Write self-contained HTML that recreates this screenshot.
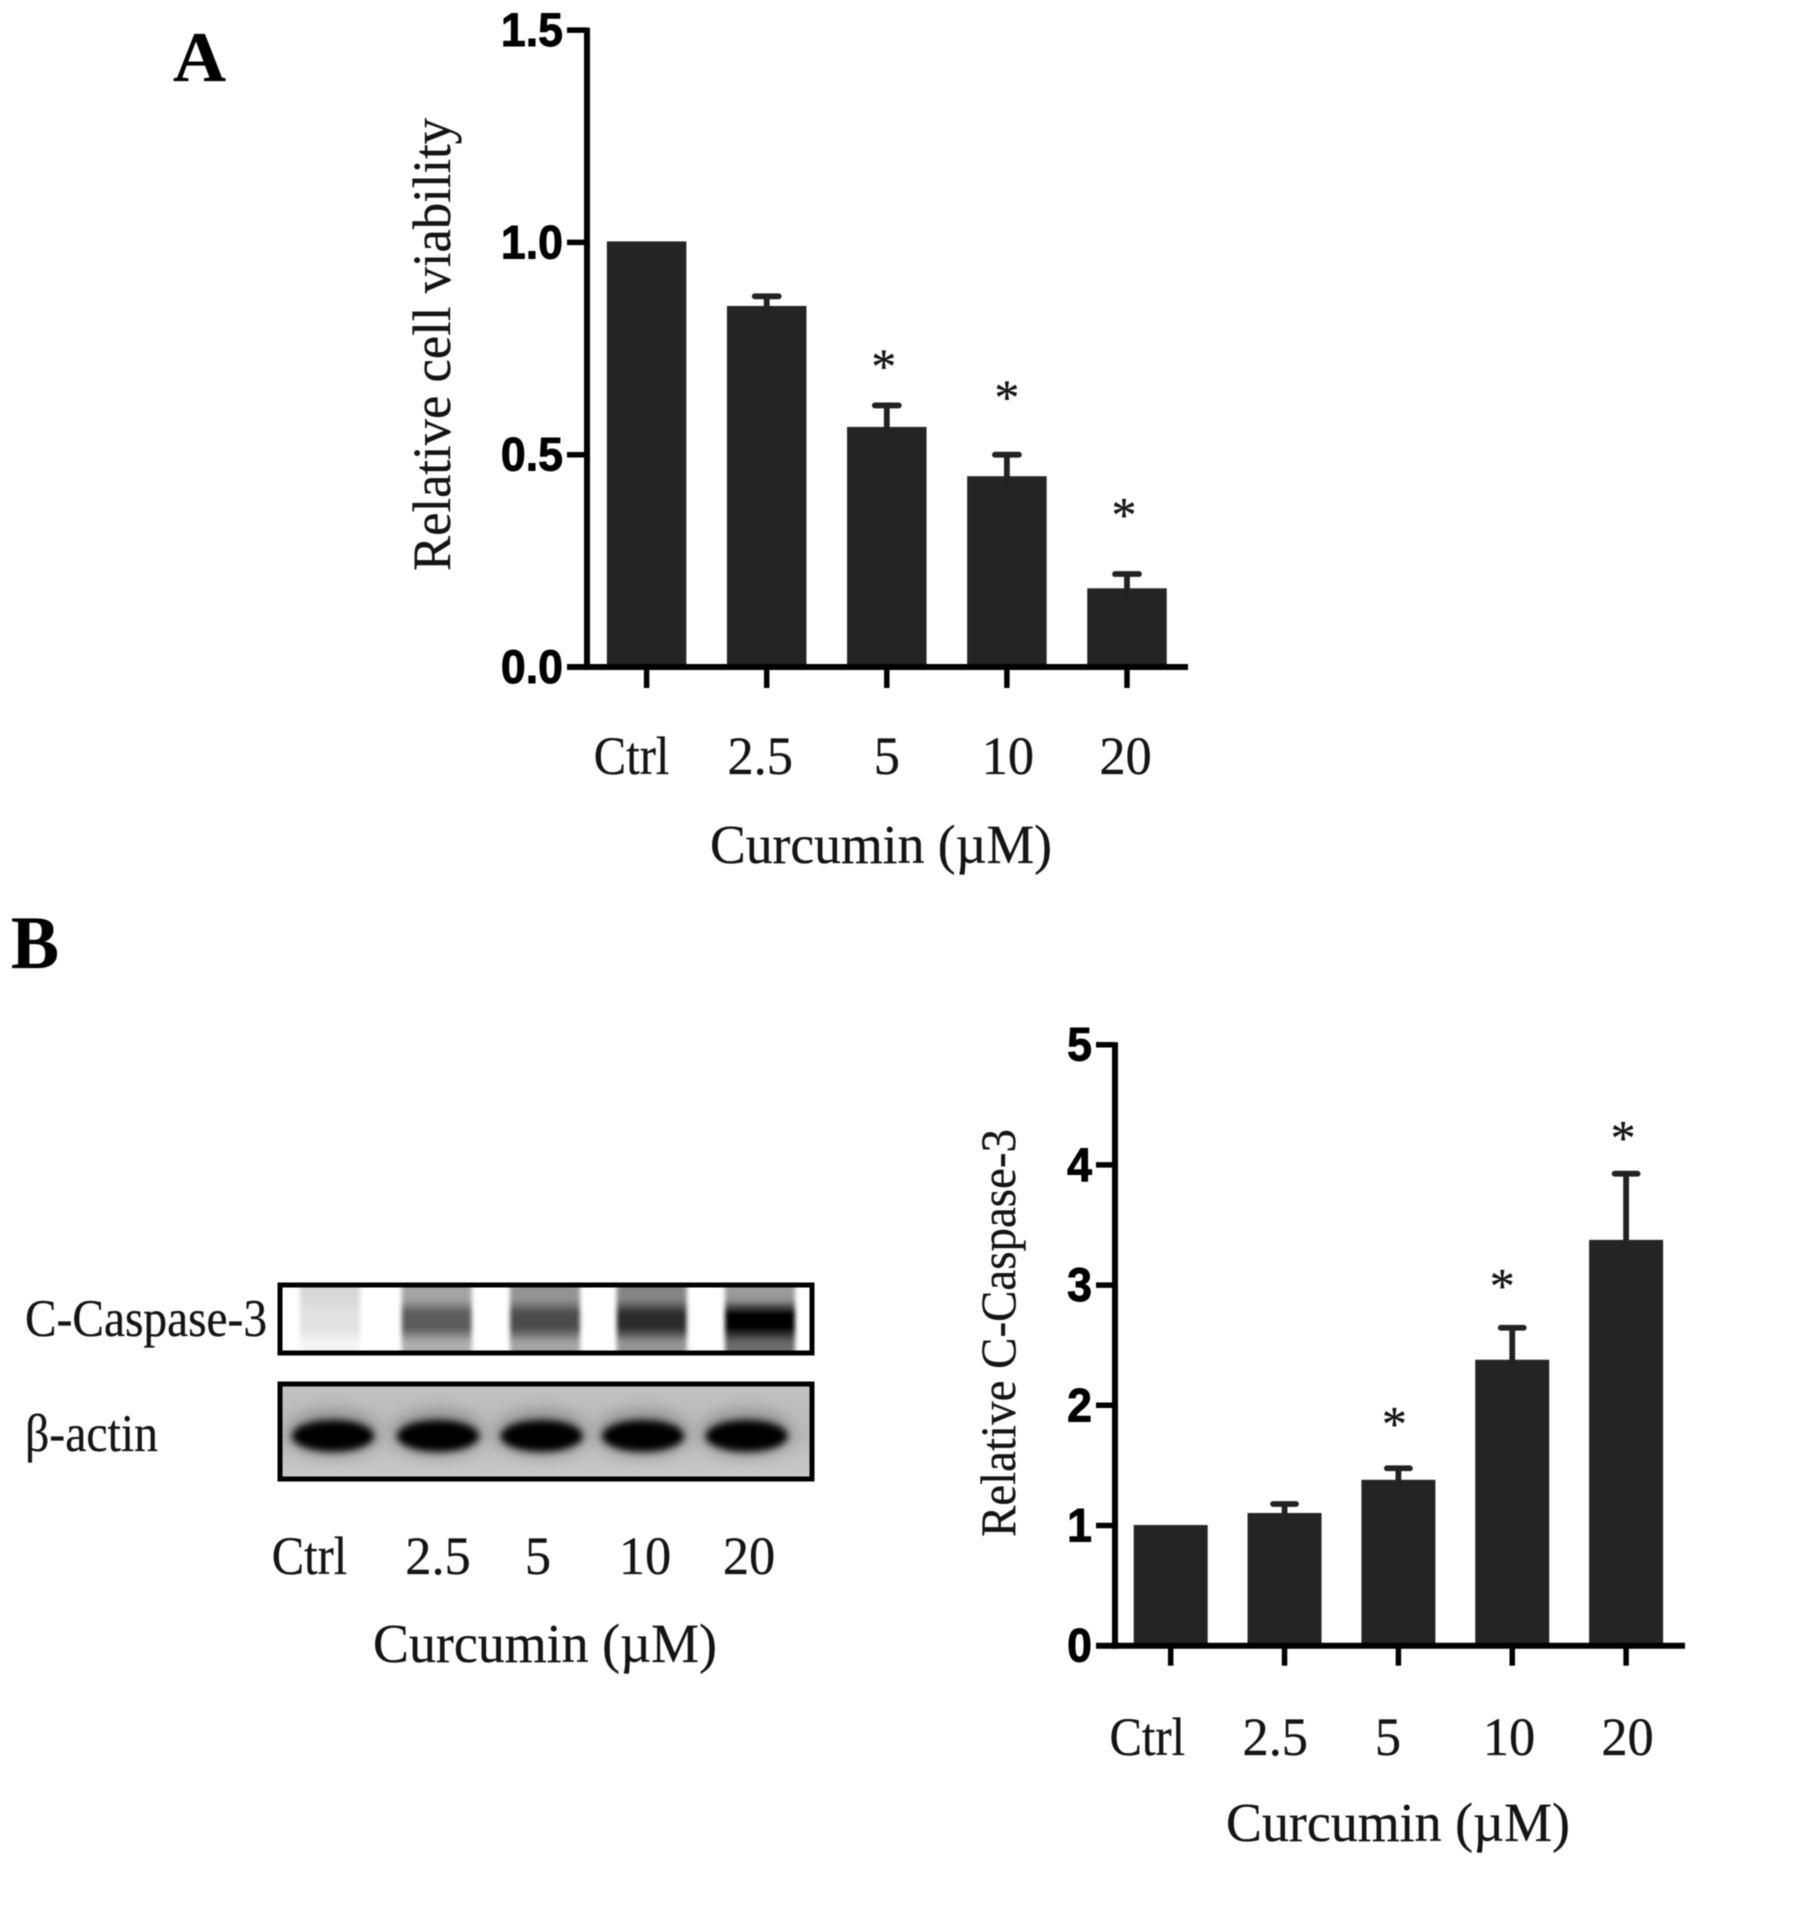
<!DOCTYPE html>
<html lang="en">
<head>
<meta charset="utf-8">
<title>Curcumin cell viability and C-Caspase-3</title>
<style>
html,body{margin:0;padding:0;background:#fff;width:1795px;height:1920px;overflow:hidden}
svg{display:block;filter:blur(0.6px)}
.serif{font-family:"Liberation Serif","DejaVu Serif",serif;fill:#141414;stroke:#141414;stroke-width:.3px}
.tick{font-family:"Liberation Sans","DejaVu Sans",sans-serif;font-weight:700;font-size:47px;fill:#000;stroke:#000;stroke-width:.9px}
</style>
</head>
<body>
<svg id="fig" xmlns="http://www.w3.org/2000/svg" width="1795" height="1920" viewBox="0 0 1795 1920">
  <defs>
    <filter id="blurLane" x="-20%" y="-20%" width="140%" height="140%"><feGaussianBlur stdDeviation="2.4 2.6"/></filter>
    <filter id="blurCore" x="-30%" y="-60%" width="160%" height="220%"><feGaussianBlur stdDeviation="3.6"/></filter>
    <filter id="blurHalo" x="-40%" y="-80%" width="180%" height="260%"><feGaussianBlur stdDeviation="9"/></filter>
    <clipPath id="clipCasp"><rect x="280" y="1285" width="532" height="68"/></clipPath>
    <clipPath id="clipActin"><rect x="280" y="1384" width="532" height="95"/></clipPath>
    <linearGradient id="actinBg" x1="0" y1="0" x2="0" y2="1">
      <stop offset="0" stop-color="#c2c2c2"/><stop offset=".55" stop-color="#b9b9b9"/><stop offset="1" stop-color="#cbcbcb"/>
    </linearGradient>
  </defs>

  <text class="serif" x="173" y="81" font-size="71" font-weight="700" textLength="53" lengthAdjust="spacingAndGlyphs" style="fill:#000">A</text>
  <text class="serif" x="11" y="968" font-size="75" font-weight="700" textLength="48" lengthAdjust="spacingAndGlyphs" style="fill:#000">B</text>

  <g id="chartA"></g>
  <text class="serif" transform="translate(450,571) rotate(-90)" font-size="54" textLength="453" lengthAdjust="spacingAndGlyphs">Relative cell viability</text>
  <text class="serif" x="710" y="863" font-size="55" textLength="342" lengthAdjust="spacingAndGlyphs">Curcumin (µM)</text>

  <g id="blot"></g>
  <text class="serif" x="25" y="1336" font-size="53" textLength="242" lengthAdjust="spacingAndGlyphs">C-Caspase-3</text>
  <text class="serif" x="25" y="1451" font-size="53" textLength="133" lengthAdjust="spacingAndGlyphs">β-actin</text>
  <text class="serif" x="373" y="1662" font-size="55" textLength="344" lengthAdjust="spacingAndGlyphs">Curcumin (µM)</text>

  <g id="chartB"></g>
  <text class="serif" transform="translate(1015,1537) rotate(-90)" font-size="50" textLength="408" lengthAdjust="spacingAndGlyphs">Relative C-Caspase-3</text>
  <text class="serif" x="1226" y="1841" font-size="55" textLength="344" lengthAdjust="spacingAndGlyphs">Curcumin (µM)</text>
</svg>
<script>
const doseLabels = ["Ctrl", "2.5", "5", "10", "20"];

const viabilityMeans = [1.0, 0.848, 0.563, 0.447, 0.183];
const viabilityUpper = [null, 0.873, 0.616, 0.5, 0.219];
const viabilityStars = [null, null, 0.718, 0.645, 0.368];
const viabilityTicks = ["0.0", "0.5", "1.0", "1.5"];

const caspaseMeans = [1.0, 1.1, 1.376, 2.375, 3.372];
const caspaseUpper = [null, 1.179, 1.476, 2.645, 3.927];
const caspaseStars = [null, null, 1.88, 3.03, 4.26];
const caspaseTicks = ["0", "1", "2", "3", "4", "5"];

const NS = "http://www.w3.org/2000/svg";
function mk(parent, tag, attrs) {
  const el = document.createElementNS(NS, tag);
  for (const k in attrs) el.setAttribute(k, attrs[k]);
  parent.appendChild(el);
  return el;
}
function labelScale(t) { return t === "Ctrl" ? 0.9 : 0.97; }

function drawChart(g, cfg, means, upper, stars, ticks) {
  const yPos = v => cfg.y0 - v * cfg.unit;
  const xPos = i => cfg.x0 + i * cfg.pitch;

  means.forEach((m, i) => {
    const top = yPos(m) - cfg.barLift;
    const bar = mk(g, "rect", {x: xPos(i) - cfg.barW / 2, y: top, width: cfg.barW, height: cfg.y0 - top, fill: "#242424"});
    
    
    if (upper[i] !== null) {
      const cap = yPos(upper[i]);
      const err = mk(g, "path", {d: "M" + xPos(i) + " " + (top + 4) + "V" + cap + "M" + (xPos(i) - cfg.capW / 2) + " " + cap + "H" + (xPos(i) + cfg.capW / 2), fill: "none", stroke: "#222", "stroke-width": 5.8, "stroke-linecap": "round"});
      
      
    }
    if (stars[i] !== null) {
      const star = mk(g, "text", {"class": "serif", x: xPos(i) + cfg.starDx[i], y: yPos(stars[i]) + 21, "font-size": 50, "text-anchor": "middle"});
      star.textContent = "*";
      
      
    }
    const tick = mk(g, "line", {x1: xPos(i), x2: xPos(i), y1: cfg.y0, y2: cfg.y0 + cfg.tickLen, stroke: "#000", "stroke-width": 5.5});
    
    
    const label = mk(g, "text", {"class": "serif", transform: "translate(" + (xPos(i) + cfg.labelDx[i]) + "," + cfg.labelY + ") scale(" + labelScale(doseLabels[i]) + ",1)", "font-size": 54, "text-anchor": "middle"});
    label.textContent = doseLabels[i];
    
    
  });

  const maxTick = parseFloat(ticks[ticks.length - 1]);
  const yAxis = mk(g, "line", {x1: cfg.axisX, x2: cfg.axisX, y1: yPos(maxTick) - 2.5, y2: cfg.y0 + 3, stroke: "#000", "stroke-width": 6});
  
  
  const xAxis = mk(g, "line", {x1: cfg.tickX, x2: cfg.axisEnd, y1: cfg.y0, y2: cfg.y0, stroke: "#000", "stroke-width": 6});
  
  

  ticks.forEach(t => {
    const y = yPos(parseFloat(t));
    const tk = mk(g, "line", {x1: cfg.tickX, x2: cfg.axisX, y1: y, y2: y, stroke: "#000", "stroke-width": 5.5});
    
    
    const lb = mk(g, "text", {"class": "tick", transform: "translate(" + (cfg.tickX - 4) + "," + (y + 16) + ") scale(.95,1)", "text-anchor": "end"});
    lb.textContent = t;
    
    
  });
}

drawChart(document.getElementById("chartA"), {
  key: "viability", x0: 646.6, pitch: 120.1, barW: 79.5, capW: 24, y0: 667, unit: 424.6, barLift: 1,
  axisX: 587, tickX: 567, axisEnd: 1188, tickLen: 21, labelY: 774,
  labelDx: [-15, -6.5, 0, 1, -1.5], starDx: [0, 0, -3, 0, -3]
}, viabilityMeans, viabilityUpper, viabilityStars, viabilityTicks);

drawChart(document.getElementById("chartB"), {
  key: "caspase", x0: 1170.7, pitch: 113.85, barW: 74, capW: 23, y0: 1645.7, unit: 120.2, barLift: 0.5,
  axisX: 1115, tickX: 1096, axisEnd: 1685, tickLen: 20, labelY: 1755,
  labelDx: [-23.4, -9.3, -10.4, -3.2, 1.4], starDx: [0, 0, -4, -10, -3]
}, caspaseMeans, caspaseUpper, caspaseStars, caspaseTicks);

/* Western blot */
const laneCentres = [335, 436.7, 545, 651.7, 760];
const laneTop = ["#d8d8d8", "#a4a4a4", "#949494", "#858585", "#9a9a9a"];
const laneCore = ["#e2e2e2", "#5c5c5c", "#4c4c4c", "#2c2c2c", "#000000"];
const laneLow = ["#f4f4f4", "#aeaeae", "#a4a4a4", "#959595", "#6c6c6c"];
const actinCentres = [333, 438, 541.7, 643, 746.7];

const blot = document.getElementById("blot");
const defs = document.querySelector("#fig defs");

const cBg = mk(blot, "rect", {x: 280, y: 1285, width: 532, height: 68, fill: "#fff"});


const cLanes = mk(blot, "g", {"clip-path": "url(#clipCasp)"});


laneCentres.forEach((c, i) => {
  const grad = mk(defs, "linearGradient", {id: "lane" + i, x1: 0, y1: 0, x2: 0, y2: 1});
  mk(grad, "stop", {offset: "0.05", "stop-color": laneTop[i]});
  mk(grad, "stop", {offset: "0.25", "stop-color": laneTop[i]});
  mk(grad, "stop", {offset: "0.42", "stop-color": laneCore[i]});
  mk(grad, "stop", {offset: "0.62", "stop-color": laneCore[i]});
  mk(grad, "stop", {offset: "0.8", "stop-color": laneLow[i]});
  mk(grad, "stop", {offset: "1", "stop-color": laneLow[i]});
  const lane = mk(cLanes, "rect", {x: c - 35, y: 1280, width: i === 0 ? 60 : 70, height: 78, fill: "url(#lane" + i + ")", filter: "url(#blurLane)"});
  
  
});
const cFrame = mk(blot, "rect", {x: 280, y: 1285, width: 532, height: 68, fill: "none", stroke: "#000", "stroke-width": 5});



const aBg = mk(blot, "rect", {x: 280, y: 1384, width: 532, height: 95, fill: "url(#actinBg)"});


const aBands = mk(blot, "g", {"clip-path": "url(#clipActin)"});


actinCentres.forEach((c, i) => {
  mk(aBands, "ellipse", {cx: c, cy: 1433, rx: 44, ry: 21, fill: "#555", opacity: .55, filter: "url(#blurHalo)"});
  const band = mk(aBands, "ellipse", {cx: c, cy: 1436, rx: 41, ry: 15.5, fill: "#000", filter: "url(#blurCore)"});
  
  
});
const aFrame = mk(blot, "rect", {x: 280, y: 1384, width: 532, height: 95, fill: "none", stroke: "#000", "stroke-width": 5});



const blotLabelX = [309.5, 438, 538, 645, 749];
doseLabels.forEach((t, i) => {
  const lab = mk(blot, "text", {"class": "serif", transform: "translate(" + blotLabelX[i] + ",1574) scale(" + labelScale(t) + ",1)", "font-size": 54, "text-anchor": "middle"});
  lab.textContent = t;
  
  
});
</script>
</body>
</html>
